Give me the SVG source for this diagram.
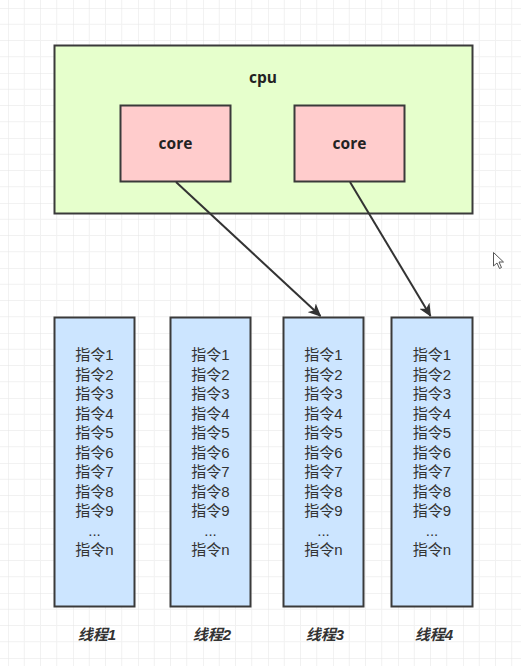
<svg xmlns="http://www.w3.org/2000/svg" width="521" height="666" viewBox="0 0 521 666">
<defs>
<pattern id="grid" x="8" y="8" width="65" height="65" patternUnits="userSpaceOnUse">
<path d="M16.25 0V65M32.5 0V65M48.75 0V65M0 16.25H65M0 32.5H65M0 48.75H65" fill="none" stroke="#f1f1f1" stroke-width="1"/>
<path d="M0 0V65M0 0H65" fill="none" stroke="#e6e6e6" stroke-width="1"/>
</pattern>
<marker id="arr" viewBox="0 0 13 12" refX="12" refY="6" markerWidth="13" markerHeight="12" markerUnits="userSpaceOnUse" orient="auto">
<path d="M0 0L13 6L0 12L3.5 6Z" fill="#333"/>
</marker>
<style>
.box{stroke:#3a3a3a;stroke-width:2}
.cpu{fill:#e6ffcc}
.core{fill:#ffcccc}
.col{fill:#cce5ff}
.bold{font-family:"Open Sans","Noto Sans","Liberation Sans",sans-serif;font-weight:bold;font-size:15.5px;fill:#222;text-anchor:middle}
.ins{font-family:"Liberation Sans","Noto Sans CJK SC",sans-serif;font-size:15px;fill:#333;text-anchor:middle}
.lbl{font-family:"Liberation Sans","Noto Sans CJK SC",sans-serif;font-size:15px;font-weight:bold;font-style:italic;fill:#333;text-anchor:middle}
.edge{stroke:#333;stroke-width:2;fill:none}
</style>
</defs>
<rect width="521" height="666" fill="#ffffff"/>
<rect width="521" height="666" fill="url(#grid)"/>
<g id="cpu">
<rect class="box cpu" x="54.5" y="45.5" width="418" height="168"/>
<text class="bold" x="263" y="83">cpu</text>
</g>
<g id="core1">
<rect class="box core" x="120.5" y="105.5" width="110" height="76"/>
<text class="bold" x="175.5" y="149">core</text>
</g>
<g id="core2">
<rect class="box core" x="294.5" y="105.5" width="110" height="76"/>
<text class="bold" x="349.5" y="149">core</text>
</g>
<g id="thread1">
<rect class="box col" x="54.5" y="317.5" width="80" height="289"/>
<text class="ins" x="94.5"><tspan x="94.5" y="360">指令1</tspan><tspan x="94.5" y="379.5">指令2</tspan><tspan x="94.5" y="399">指令3</tspan><tspan x="94.5" y="418.5">指令4</tspan><tspan x="94.5" y="438">指令5</tspan><tspan x="94.5" y="457.5">指令6</tspan><tspan x="94.5" y="477">指令7</tspan><tspan x="94.5" y="496.5">指令8</tspan><tspan x="94.5" y="516">指令9</tspan><tspan x="94.5" y="535.5">...</tspan><tspan x="94.5" y="555">指令n</tspan></text>
<text class="lbl" x="97" y="640">线程1</text>
</g>
<g id="thread2">
<rect class="box col" x="170.5" y="317.5" width="80" height="289"/>
<text class="ins" x="210.5"><tspan x="210.5" y="360">指令1</tspan><tspan x="210.5" y="379.5">指令2</tspan><tspan x="210.5" y="399">指令3</tspan><tspan x="210.5" y="418.5">指令4</tspan><tspan x="210.5" y="438">指令5</tspan><tspan x="210.5" y="457.5">指令6</tspan><tspan x="210.5" y="477">指令7</tspan><tspan x="210.5" y="496.5">指令8</tspan><tspan x="210.5" y="516">指令9</tspan><tspan x="210.5" y="535.5">...</tspan><tspan x="210.5" y="555">指令n</tspan></text>
<text class="lbl" x="212" y="640">线程2</text>
</g>
<g id="thread3">
<rect class="box col" x="283.5" y="317.5" width="80" height="289"/>
<text class="ins" x="323.5"><tspan x="323.5" y="360">指令1</tspan><tspan x="323.5" y="379.5">指令2</tspan><tspan x="323.5" y="399">指令3</tspan><tspan x="323.5" y="418.5">指令4</tspan><tspan x="323.5" y="438">指令5</tspan><tspan x="323.5" y="457.5">指令6</tspan><tspan x="323.5" y="477">指令7</tspan><tspan x="323.5" y="496.5">指令8</tspan><tspan x="323.5" y="516">指令9</tspan><tspan x="323.5" y="535.5">...</tspan><tspan x="323.5" y="555">指令n</tspan></text>
<text class="lbl" x="325" y="640">线程3</text>
</g>
<g id="thread4">
<rect class="box col" x="391.5" y="317.5" width="81" height="289"/>
<text class="ins" x="432"><tspan x="432" y="360">指令1</tspan><tspan x="432" y="379.5">指令2</tspan><tspan x="432" y="399">指令3</tspan><tspan x="432" y="418.5">指令4</tspan><tspan x="432" y="438">指令5</tspan><tspan x="432" y="457.5">指令6</tspan><tspan x="432" y="477">指令7</tspan><tspan x="432" y="496.5">指令8</tspan><tspan x="432" y="516">指令9</tspan><tspan x="432" y="535.5">...</tspan><tspan x="432" y="555">指令n</tspan></text>
<text class="lbl" x="434" y="640">线程4</text>
</g>
<g id="connectors">
<path class="edge" d="M176 182L320.5 316" marker-end="url(#arr)"/>
<path class="edge" d="M350 182L430.5 316" marker-end="url(#arr)"/>
</g>
<path d="M493.5 252.5V266L497 263L499.5 268.5L501.5 267.5L499 262H503.5Z" fill="#fff" stroke="#555" stroke-width="1"/>
</svg>
